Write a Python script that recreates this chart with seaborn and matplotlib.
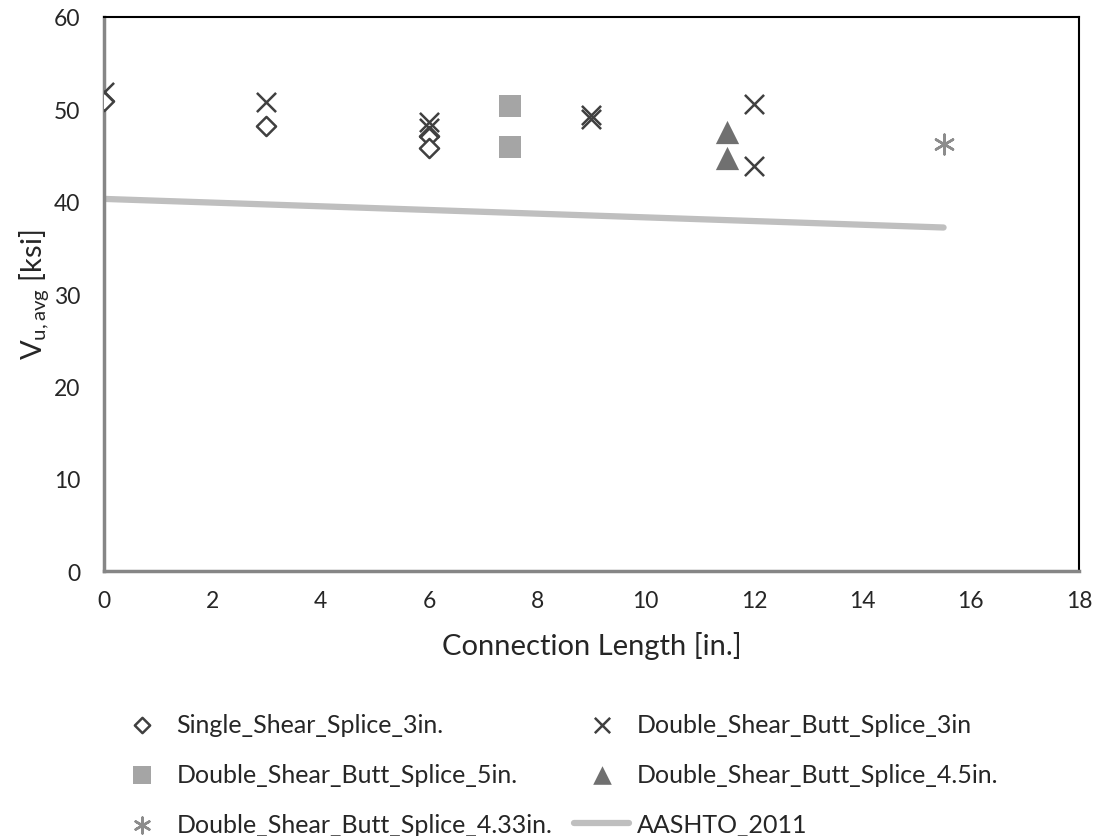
import matplotlib
matplotlib.use('Agg')
import matplotlib.pyplot as plt
import seaborn as sns
import pandas as pd

# data
single_x = [0, 3, 6, 6]
single_y = [50.9, 48.2, 47.1, 45.8]

butt3_x = [0, 3, 6, 6, 9, 9, 12, 12]
butt3_y = [51.9, 50.8, 48.6, 48.0, 49.0, 49.4, 50.6, 43.9]

butt5_x = [7.5, 7.5]
butt5_y = [50.4, 45.9]

butt45_x = [11.5, 11.5]
butt45_y = [47.5, 44.7]

butt433_x = [15.5]
butt433_y = [46.2]

aashto_x = [0, 3, 6, 7.5, 9, 11.5, 12, 15.5]
aashto_y = [40.3, 39.7, 39.1, 38.8, 38.5, 38.0, 37.9, 37.2]

sns.set_style('white')
plt.rcParams['font.family'] = ['Lato', 'DejaVu Sans']
plt.rcParams['mathtext.fontset'] = 'custom'
plt.rcParams['mathtext.rm'] = 'Lato'
plt.rcParams['mathtext.it'] = 'Lato'

fig = plt.figure(figsize=(10.99, 8.37), dpi=100)
ax = fig.add_axes([0.0946, 0.3166, 0.8872, 0.6619])

h1 = ax.scatter(single_x, single_y, marker='D', s=95, facecolor='white',
                edgecolor='#404040', linewidth=1.8, zorder=3, label='Single_Shear_Splice_3in.')
h2 = ax.scatter(butt3_x, butt3_y, marker='x', s=190, color='#404040',
                linewidth=1.8, zorder=3, label='Double_Shear_Butt_Splice_3in')
h3 = ax.scatter(butt5_x, butt5_y, marker='s', s=240, color='#A5A5A5',
                linewidth=0, zorder=3, label='Double_Shear_Butt_Splice_5in.')
h4 = ax.scatter(butt45_x, butt45_y, marker='^', s=280, color='#707070',
                linewidth=0, zorder=3, label='Double_Shear_Butt_Splice_4.5in.')
h5 = ax.scatter(butt433_x, butt433_y, marker=(6, 2, 0), s=200, color='#8C8C8C',
                linewidth=1.8, zorder=3, label='Double_Shear_Butt_Splice_4.33in.')

aashto = pd.DataFrame({'x': aashto_x, 'y': aashto_y})
sns.lineplot(data=aashto, x='x', y='y', color='#BFBFBF', linewidth=4.5, ax=ax,
             label='AASHTO_2011', zorder=2)
h6 = ax.get_lines()[-1]

ax.set_xlim(0, 18)
ax.set_ylim(0, 60)
ax.set_xticks(range(0, 19, 2))
ax.set_yticks(range(0, 61, 10))
ax.tick_params(labelsize=16.5, length=0)
ax.tick_params(axis='y', pad=17)
ax.tick_params(axis='x', pad=14)

for s in ['top', 'right']:
    ax.spines[s].set_color('black')
    ax.spines[s].set_linewidth(1.5)
for s in ['left', 'bottom']:
    ax.spines[s].set_color('#868686')
    ax.spines[s].set_linewidth(2.5)

ax.set_xlabel('Connection Length [in.]', fontsize=21, labelpad=14)
ax.set_ylabel(r'V$_{\rm u,avg}$ [ksi]', fontsize=21, labelpad=2)

ax.legend_.remove()
leg_kw = dict(loc='upper left', frameon=False, fontsize=18, handlelength=2.2,
              handletextpad=0.3, labelspacing=1.08, borderaxespad=0, borderpad=0,
              markerscale=0.8)
col1 = [h1, h3, h5]
col2 = [h2, h4, h6]
leg1 = fig.legend(col1, [h.get_label() for h in col1],
                  bbox_to_anchor=(114 / 1099, 1 - 714 / 837), **leg_kw)
leg2 = fig.legend(col2, [h.get_label() for h in col2],
                  bbox_to_anchor=(574 / 1099, 1 - 714 / 837), **leg_kw)

fig.savefig('out.png', dpi=100)
